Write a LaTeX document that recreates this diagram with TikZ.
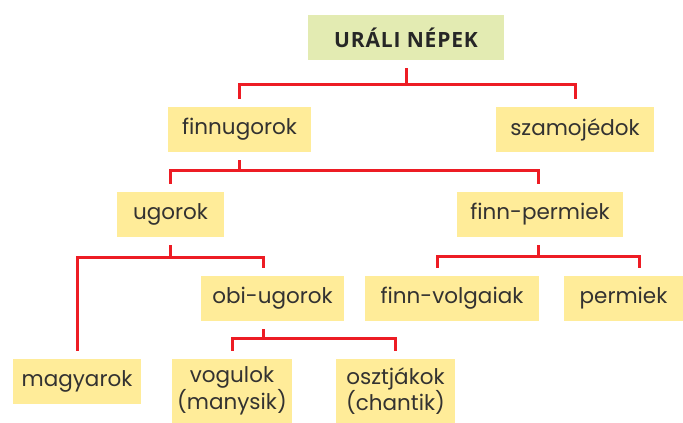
\documentclass[tikz,border=0pt]{standalone}
\usepackage{fontspec}
\setmainfont{Poppins}
\newfontfamily\titlefont[LetterSpace=4]{Open Sans}
\definecolor{boxyellow}{HTML}{FFEC99}
\definecolor{boxgreen}{HTML}{E3EBB2}
\definecolor{linkred}{HTML}{ED1C24}
\definecolor{inkgray}{HTML}{333231}

\begin{document}
\begin{tikzpicture}[x=1pt,y=-1pt]
    \tikzstyle{people}=[fill=boxyellow, text=inkgray, inner sep=0pt,
                        minimum height=45pt, font=\fontsize{21.5}{25}\selectfont]
    \tikzstyle{rootbox}=[people, fill=boxgreen, text=black!85,
                         font=\titlefont\bfseries\fontsize{21}{24}\selectfont]
    \tikzstyle{link}=[draw=linkred, line width=3pt]
    \useasboundingbox (0,0) rectangle (683,423);

    % Boxes of the family tree
    \node [rootbox, minimum width=196pt] (urali) at (406,37.5) {URÁLI NÉPEK};
    \node [people, minimum width=143pt] (finnugor) at (239.5,129.5) {finnugorok};
    \node [people, minimum width=158pt] (szamojed) at (575,129.5) {szamojédok};
    \node [people, minimum width=107pt] (ugor) at (170.5,214.5) {ugorok};
    \node [people, minimum width=166pt] (finnperm) at (540,214.5) {finn-permiek};
    \node [people, minimum width=143pt] (obiugor) at (272.5,298.5) {obi-ugorok};
    \node [people, minimum width=174pt] (finnvolga) at (452,298.5) {finn-volgaiak};
    \node [people, minimum width=119pt] (perm) at (623.5,298.5) {permiek};
    \node [people, minimum width=128pt] (magyar) at (77,381.5) {magyarok};
    \node [people, minimum width=120pt, minimum height=64pt, align=center]
        (vogul) at (232,391) {vogulok\\(manysik)};
    \node [people, minimum width=119pt, minimum height=64pt, align=center]
        (osztjak) at (395.5,391) {osztjákok\\(chantik)};

    % Red branches
    \draw [link] ([yshift=-8pt]urali.south) -- (urali.south |- 0,84);
    \draw [link] ([yshift=8pt]finnugor.north) -- (finnugor.north |- 0,84)
        -- (szamojed.north |- 0,84) -- ([yshift=8pt]szamojed.north);

    \draw [link] ([yshift=-8pt]finnugor.south) -- (finnugor.south |- 0,170);
    \draw [link] ([yshift=8pt]ugor.north) -- (ugor.north |- 0,170)
        -- ([xshift=-2pt]finnperm.north |- 0,170) -- ([xshift=-2pt,yshift=8pt]finnperm.north);

    \draw [link] ([yshift=-8pt]ugor.south) -- (ugor.south |- 0,257);
    \draw [link] ([yshift=8pt]magyar.north) -- (magyar.north |- 0,257)
        -- ([xshift=-9.5pt]obiugor.north |- 0,257) -- ([xshift=-9.5pt,yshift=8pt]obiugor.north);

    \draw [link] ([xshift=-2pt,yshift=-8pt]finnperm.south) -- ([xshift=-2pt]finnperm.south |- 0,256);
    \draw [link] ([xshift=-15pt,yshift=8pt]finnvolga.north) -- ([xshift=-15pt]finnvolga.north |- 0,256)
        -- ([xshift=15.5pt]perm.north |- 0,256) -- ([xshift=15.5pt,yshift=8pt]perm.north);

    \draw [link] ([xshift=-9.5pt,yshift=-8pt]obiugor.south) -- ([xshift=-9.5pt]obiugor.south |- 0,338);
    \draw [link] ([yshift=8pt]vogul.north) -- (vogul.north |- 0,338)
        -- (osztjak.north |- 0,338) -- ([yshift=8pt]osztjak.north);
\end{tikzpicture}
\end{document}
